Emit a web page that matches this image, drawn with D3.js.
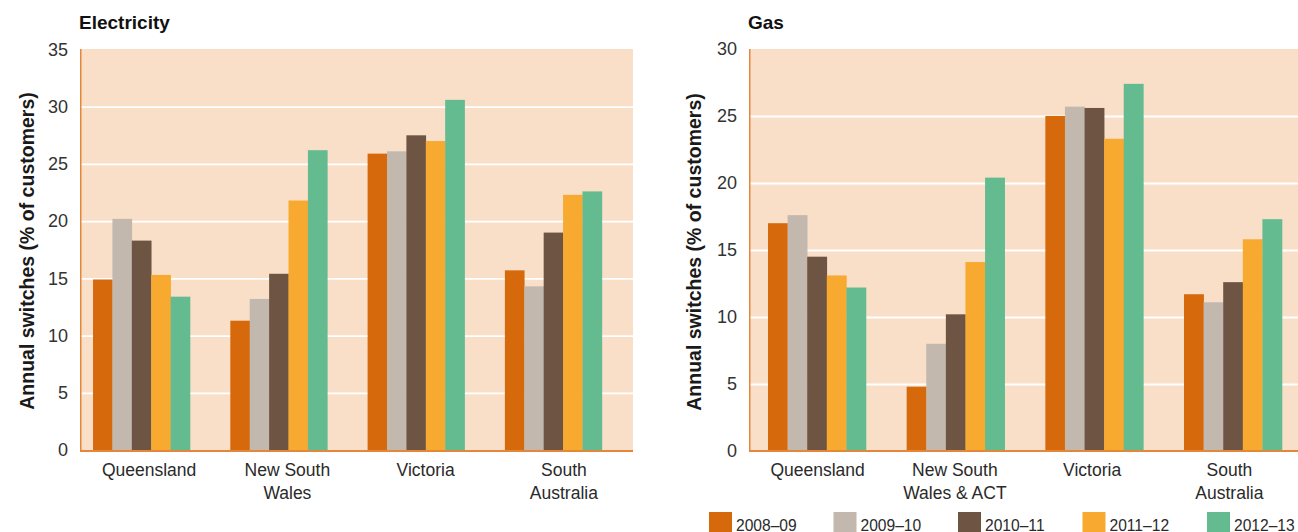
<!DOCTYPE html>
<html>
<head>
<meta charset="utf-8">
<script src="https://cdn.jsdelivr.net/npm/d3@7"></script>
<style>
  html, body { margin: 0; padding: 0; background: #ffffff; }
  svg { display: block; font-family: "Liberation Sans", Arial, Helvetica, sans-serif; }
</style>
</head>
<body>
<svg id="chart" width="1298" height="532"></svg>
<script>
// ---------------- DATA ----------------
const regions = ["Queensland", "New South Wales", "Victoria", "South Australia"];
const elecLabels = [["Queensland"], ["New South", "Wales"], ["Victoria"], ["South", "Australia"]];
const gasLabels = [["Queensland"], ["New South", "Wales & ACT"], ["Victoria"], ["South", "Australia"]];
const years = ["2008–09", "2009–10", "2010–11", "2011–12", "2012–13"];

// Electricity switching rates, one array per region (values by year)
const elecQueensland = [14.9, 20.2, 18.3, 15.3, 13.4];
const elecNSW        = [11.3, 13.2, 15.4, 21.8, 26.2];
const elecVictoria   = [25.9, 26.1, 27.5, 27.0, 30.6];
const elecSA         = [15.7, 14.3, 19.0, 22.3, 22.6];

// Gas switching rates, one array per region (values by year)
const gasQueensland = [17.0, 17.6, 14.5, 13.1, 12.2];
const gasNSW        = [4.8, 8.0, 10.2, 14.1, 20.4];
const gasVictoria   = [25.0, 25.7, 25.6, 23.3, 27.4];
const gasSA         = [11.7, 11.1, 12.6, 15.8, 17.3];

const elecTicks = [0, 5, 10, 15, 20, 25, 30, 35];
const gasTicks = [0, 5, 10, 15, 20, 25, 30];

const yLabel = "Annual switches (% of customers)";

// ---------------- STYLE ----------------
const colors = ["#D6690B", "#C2B8AD", "#6E5443", "#F8A930", "#63BB8F"];
const bgColor = "#F9DFC7";
const axisColor = "#E3873A";

const svg = d3.select("#chart");
const color = d3.scaleOrdinal().domain(years).range(colors);

function drawPanel(cfg) {
  const g = svg.append("g");
  const table = regions.map((r, i) => ({ region: r, values: cfg.values[i], label: cfg.labels[i] }));

  const y = d3.scaleLinear().domain([0, cfg.yMax]).range([cfg.y0, cfg.yTop]);
  const x0 = d3.scaleBand().domain(regions).range(cfg.groupRange)
    .paddingInner(cfg.padIn).paddingOuter(cfg.padOut);
  const x1 = d3.scaleBand().domain(years).range([0, x0.bandwidth()]);
  const xl = d3.scaleBand().domain(regions).range([cfg.left, cfg.right]);

  // background
  g.append("rect")
    .attr("x", cfg.left).attr("y", cfg.top)
    .attr("width", cfg.right - cfg.left).attr("height", cfg.bottom - cfg.top)
    .attr("fill", bgColor);

  // y axis with gridlines
  const yAxis = g.append("g")
    .attr("transform", `translate(${cfg.left},0)`)
    .call(d3.axisLeft(y).tickValues(cfg.ticks).tickSize(-(cfg.right - cfg.left)).tickPadding(12).tickFormat(d3.format("d")));
  yAxis.select(".domain").remove();
  yAxis.selectAll(".tick line")
    .attr("stroke", "#ffffff").attr("stroke-width", 1.8)
    .attr("opacity", d => (d === 0 || d === cfg.yMax) ? 0 : 1);
  yAxis.selectAll(".tick text")
    .attr("fill", "#333333").style("font-size", "18px");

  // bars
  g.append("g").selectAll("g")
    .data(table).join("g")
    .attr("transform", d => `translate(${x0(d.region)},0)`)
    .selectAll("rect")
    .data(d => d.values.map((v, i) => ({ year: years[i], v })))
    .join("rect")
    .attr("x", d => x1(d.year))
    .attr("width", x1.bandwidth() + 0.3)
    .attr("y", d => y(d.v))
    .attr("height", d => y(0) - y(d.v) + 1)
    .attr("fill", d => color(d.year));

  // axis lines
  g.append("line")
    .attr("x1", cfg.left + 0.75).attr("x2", cfg.left + 0.75)
    .attr("y1", cfg.top).attr("y2", cfg.bottom)
    .attr("stroke", axisColor).attr("stroke-width", 1.5);
  g.append("line")
    .attr("x1", cfg.left).attr("x2", cfg.right)
    .attr("y1", cfg.bottom).attr("y2", cfg.bottom)
    .attr("stroke", axisColor).attr("stroke-width", 2);

  // category labels
  const xAxis = g.append("g")
    .attr("transform", `translate(0,${cfg.bottom})`)
    .call(d3.axisBottom(xl).tickSize(0).tickFormat(""));
  xAxis.select(".domain").remove();
  xAxis.selectAll(".tick").each(function (d) {
    const row = table.find(t => t.region === d);
    const t = d3.select(this).append("text")
      .attr("fill", "#2a2a2a")
      .attr("text-anchor", "middle")
      .style("font-size", "17.5px");
    row.label.forEach((line, i) => {
      t.append("tspan").attr("x", 0).attr("y", 25 + i * 23).text(line);
    });
  });

  // title
  g.append("text")
    .attr("x", cfg.left - 1).attr("y", 29)
    .attr("fill", "#111111")
    .style("font-size", "19px").style("font-weight", "bold")
    .text(cfg.title);

  // y label
  g.append("text")
    .attr("transform", `translate(${cfg.yLabelX},${cfg.yLabelY}) rotate(-90)`)
    .attr("text-anchor", "middle")
    .attr("fill", "#1a1a1a")
    .style("font-size", "19.5px").style("font-weight", "bold")
    .text(yLabel);
}

drawPanel({
  title: "Electricity",
  values: [elecQueensland, elecNSW, elecVictoria, elecSA],
  labels: elecLabels,
  ticks: elecTicks,
  yMax: 35,
  left: 80, right: 633, top: 49, bottom: 451,
  y0: 450, yTop: 49.5,
  groupRange: [79.3, 615.6], padIn: 0.2935, padOut: 0.1,
  yLabelX: 34, yLabelY: 251
});

drawPanel({
  title: "Gas",
  values: [gasQueensland, gasNSW, gasVictoria, gasSA],
  labels: gasLabels,
  ticks: gasTicks,
  yMax: 30,
  left: 749, right: 1298, top: 49, bottom: 451,
  y0: 451, yTop: 49,
  groupRange: [749, 1301], padIn: 0.2934, padOut: 0.137,
  yLabelX: 701, yLabelY: 252
});

// legend
const legendX = d3.scalePoint().domain(years).range([709, 1207]);
const legend = svg.append("g").selectAll("g")
  .data(years).join("g")
  .attr("transform", d => `translate(${legendX(d)},512)`);
legend.append("rect")
  .attr("width", 23).attr("height", 22)
  .attr("fill", d => color(d));
legend.append("text")
  .attr("x", 27).attr("y", 18.5)
  .attr("fill", "#2a2a2a")
  .style("font-size", "15.6px")
  .text(d => d);
</script>
</body>
</html>
